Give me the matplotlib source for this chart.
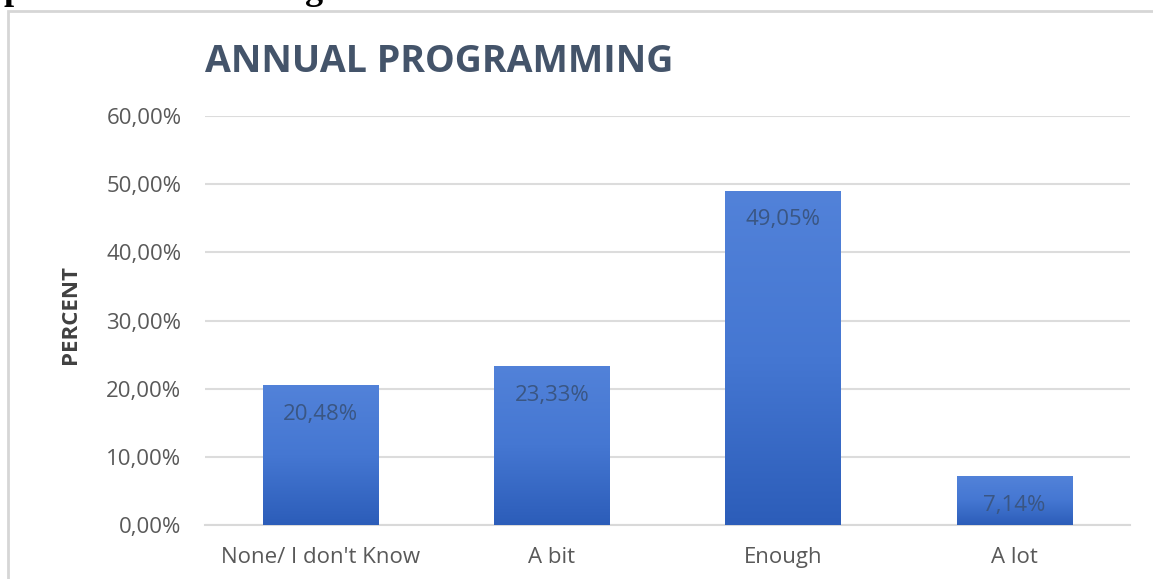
import matplotlib
matplotlib.use("Agg")
import matplotlib.pyplot as plt
import numpy as np
from matplotlib.patches import Rectangle
from matplotlib.colors import LinearSegmentedColormap

categories = ["None/ I don't Know", "A bit", "Enough", "A lot"]
values = [20.48, 23.33, 49.05, 7.14]
value_labels = ["20,48%", "23,33%", "49,05%", "7,14%"]
yticks = [0, 10, 20, 30, 40, 50, 60]
ytick_labels = ["0,00%", "10,00%", "20,00%", "30,00%", "40,00%", "50,00%", "60,00%"]

plt.rcParams['font.family'] = ['Open Sans', 'DejaVu Sans']

W, H = 1153, 579
fig = plt.figure(figsize=(W / 100, H / 100), dpi=100)
fig.patch.set_facecolor("white")

# chart frame
frame = Rectangle((8 / W, -0.1), 1.2, 1 - 11 / H + 0.1, transform=fig.transFigure,
                  facecolor="none", edgecolor="#d6d6d6", linewidth=2, zorder=0)
fig.patches.append(frame)

# descenders of the caption line above the chart
serif = ["Liberation Serif", "DejaVu Serif"]
fig.text(4 / W, 1 + 1 / H, "p", family=serif, fontweight="bold", fontsize=26,
         color="black", va="baseline")
fig.text(305 / W, 1 + 1 / H, "g", family=serif, fontweight="bold", fontsize=26,
         color="black", va="baseline")

ax = fig.add_axes([205 / W, 1 - 525 / H, 925 / W, (525 - 116) / H])
ax.set_zorder(2)
ax.patch.set_alpha(0)

x = np.arange(len(categories))
bars = ax.bar(x, values, width=0.5, color="#3f6fcc", zorder=2)

# vertical gradient fill, clipped to each bar
cmap = LinearSegmentedColormap.from_list("barfill", ["#2c5db9", "#4577d2", "#5282d9"])
grad = np.linspace(0, 1, 256).reshape(-1, 1)
for b in bars:
    x0, w, h = b.get_x(), b.get_width(), b.get_height()
    im = ax.imshow(grad, cmap=cmap, extent=[x0, x0 + w, 0, h], origin="lower",
                   aspect="auto", zorder=3)
    im.set_clip_path(b)
ax.set_xlim(-0.5, len(categories) - 0.5)
ax.set_ylim(0, 60)

for xi, v, lab in zip(x, values, value_labels):
    ax.annotate(lab, (xi, v), xytext=(0, -21), textcoords="offset points",
                ha="center", va="center", fontsize=16, color="#3a5683", zorder=4)

ax.set_yticks(yticks)
ax.set_yticklabels(ytick_labels)
ax.set_xticks(x)
ax.set_xticklabels(categories)
ax.tick_params(axis="y", length=0, pad=17, labelsize=16, labelcolor="#595959")
ax.tick_params(axis="x", length=0, pad=16, labelsize=16, labelcolor="#595959")
ax.yaxis.grid(True, color="#dcdcdc", linewidth=1.5, zorder=0)
ax.set_axisbelow(True)
for s in ["top", "right", "left"]:
    ax.spines[s].set_visible(False)
ax.spines["bottom"].set_color("#d9d9d9")
ax.spines["bottom"].set_linewidth(1.5)

fig.text(70 / W, 1 - 314 / H, "PERCENT", rotation=90, ha="center", va="center",
         fontsize=16, fontweight="bold", color="#404040")

fig.text(205 / W, 1 - 62 / H, "ANNUAL PROGRAMMING", ha="left", va="center",
         fontsize=27, fontweight="bold", color="#44546a")

fig.savefig("out.png", dpi=100, facecolor="white")
